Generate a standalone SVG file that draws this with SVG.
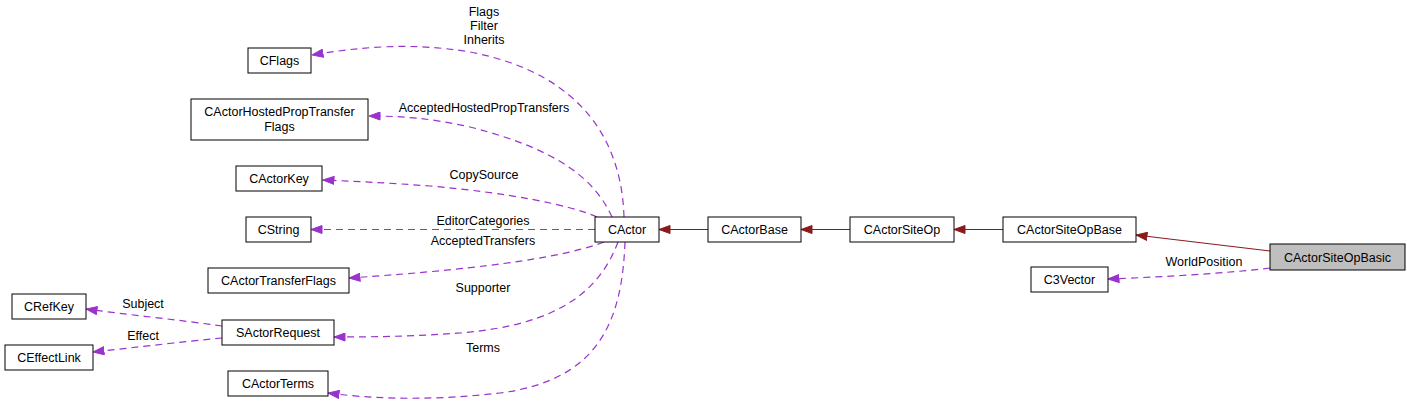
<svg xmlns="http://www.w3.org/2000/svg" width="1407" height="403" viewBox="0 0 1407 403">
<defs>
<style>
.n rect{fill:#ffffff;stroke:#000000;stroke-width:1}
.n.h rect{fill:#bfbfbf}
text{font-family:"Liberation Sans",Arial,sans-serif;font-size:12.5px;fill:#000000}
.n text{text-anchor:middle}
.l{text-anchor:middle}
.u{fill:none;stroke:#9a32cd;stroke-width:1.2;stroke-dasharray:7,5}
.s{stroke-width:1}
.i{fill:none;stroke:#8b1a1a;stroke-width:1.2}
</style>
<marker id="au" viewBox="0 0 12 9" refX="11.5" refY="4.5" markerWidth="12" markerHeight="9" markerUnits="userSpaceOnUse" orient="auto"><path d="M0.5,0.5 L11.5,4.5 L0.5,8.5 Z" fill="#9a32cd" stroke="#9a32cd"/></marker>
<marker id="ai" viewBox="0 0 12 9" refX="11.5" refY="4.5" markerWidth="12" markerHeight="9" markerUnits="userSpaceOnUse" orient="auto"><path d="M0.5,0.5 L11.5,4.5 L0.5,8.5 Z" fill="#8b1a1a" stroke="#8b1a1a"/></marker>
</defs>
<rect width="1407" height="403" fill="#ffffff"/>
<g id="edges">
<path class="u" marker-end="url(#au)" d="M624,217 C622,150 590,75 470,52 C410,42 360,47 312,55"/>
<path class="u" marker-end="url(#au)" d="M612,217 C595,180 560,150 470,127 C430,118 400,116 369,116"/>
<path class="u" marker-end="url(#au)" d="M597,217 C570,205 510,193 430,186 C390,183 350,181 323,180"/>
<path class="u s" marker-end="url(#au)" d="M595,229.5 L311,229.5"/>
<path class="u" marker-end="url(#au)" d="M604,242 C570,255 500,268 349,278"/>
<path class="u" marker-end="url(#au)" d="M618,242 C600,290 560,325 460,333 C420,336 380,337 334,337"/>
<path class="u" marker-end="url(#au)" d="M625,242 C622,320 600,380 500,393 C440,400 380,400 328,393"/>
<path class="u" marker-end="url(#au)" d="M222,326 C180,320 130,315 86,309"/>
<path class="u" marker-end="url(#au)" d="M222,338 C180,342 130,348 93,352"/>
<path class="u" marker-end="url(#au)" d="M1270,268 C1220,274 1160,277 1108,279"/>
<path class="i s" marker-end="url(#ai)" d="M708,229.5 L659,229.5"/>
<path class="i s" marker-end="url(#ai)" d="M850,229.5 L801,229.5"/>
<path class="i s" marker-end="url(#ai)" d="M1003,229.5 L954,229.5"/>
<path class="i" marker-end="url(#ai)" d="M1270,251 L1136,235"/>
<text class="l" x="484" y="16">Flags</text>
<text class="l" x="484" y="30">Filter</text>
<text class="l" x="484" y="44">Inherits</text>
<text class="l" x="484" y="112">AcceptedHostedPropTransfers</text>
<text class="l" x="484" y="179">CopySource</text>
<text class="l" x="483" y="225">EditorCategories</text>
<text class="l" x="483" y="245">AcceptedTransfers</text>
<text class="l" x="483" y="292">Supporter</text>
<text class="l" x="143" y="308">Subject</text>
<text class="l" x="143" y="340">Effect</text>
<text class="l" x="483" y="352">Terms</text>
<text class="l" x="1204" y="266">WorldPosition</text>
</g>
<g id="CActorSiteOpBasic" class="n h"><rect x="1270" y="244" width="135" height="26"/><text x="1337.5" y="261.5">CActorSiteOpBasic</text></g>
<g id="CActorSiteOpBase" class="n"><rect x="1003" y="217" width="133" height="25"/><text x="1069.5" y="234">CActorSiteOpBase</text></g>
<g id="CActorSiteOp" class="n"><rect x="850" y="217" width="104" height="25"/><text x="902" y="234">CActorSiteOp</text></g>
<g id="CActorBase" class="n"><rect x="708" y="217" width="93" height="25"/><text x="754.5" y="234">CActorBase</text></g>
<g id="CActor" class="n"><rect x="595" y="217" width="64" height="25"/><text x="627" y="234">CActor</text></g>
<g id="C3Vector" class="n"><rect x="1031" y="267" width="77" height="25"/><text x="1069.5" y="284">C3Vector</text></g>
<g id="CFlags" class="n"><rect x="248" y="48" width="63" height="25"/><text x="279.5" y="65">CFlags</text></g>
<g id="CActorHostedPropTransferFlags" class="n"><rect x="191" y="99" width="177" height="41"/><text x="279.5" y="116">CActorHostedPropTransfer</text><text x="279.5" y="131">Flags</text></g>
<g id="CActorKey" class="n"><rect x="236" y="166" width="86" height="25"/><text x="279" y="183">CActorKey</text></g>
<g id="CString" class="n"><rect x="246" y="217" width="65" height="25"/><text x="278.5" y="234">CString</text></g>
<g id="CActorTransferFlags" class="n"><rect x="208" y="268" width="141" height="25"/><text x="278.5" y="285">CActorTransferFlags</text></g>
<g id="CRefKey" class="n"><rect x="12" y="294" width="74" height="25"/><text x="49" y="311">CRefKey</text></g>
<g id="SActorRequest" class="n"><rect x="222" y="320" width="112" height="25"/><text x="278" y="337">SActorRequest</text></g>
<g id="CEffectLink" class="n"><rect x="5" y="345" width="88" height="25"/><text x="49" y="362">CEffectLink</text></g>
<g id="CActorTerms" class="n"><rect x="228" y="371" width="100" height="25"/><text x="278" y="388">CActorTerms</text></g>
</svg>
